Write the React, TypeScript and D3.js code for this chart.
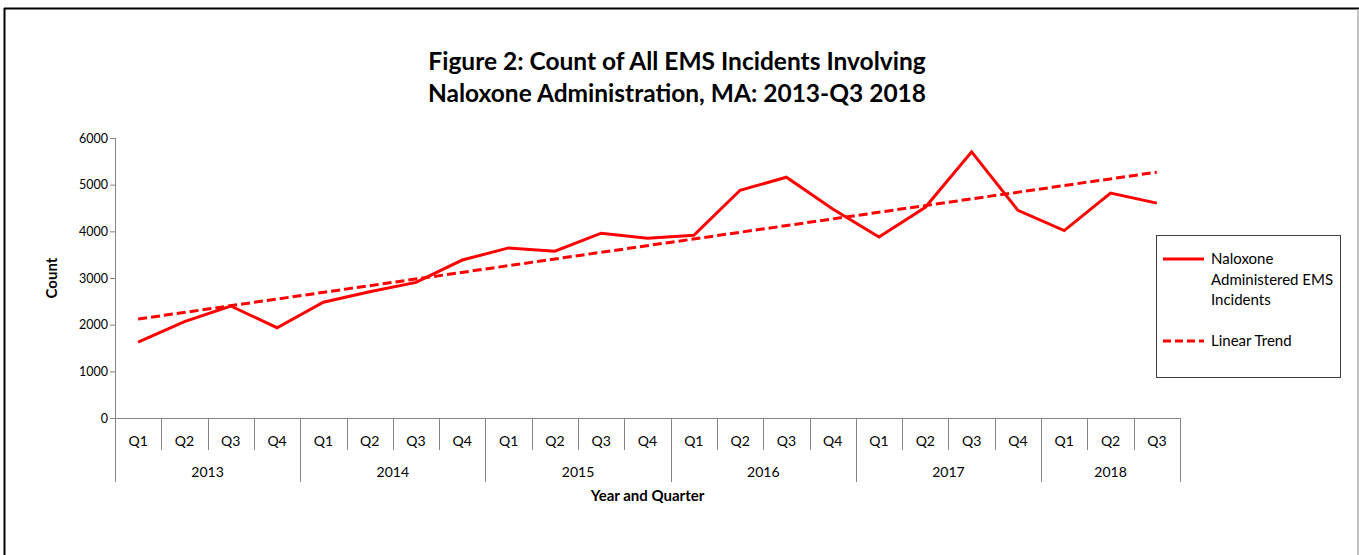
import { useEffect, useRef } from 'react';
import * as d3 from 'd3';

// Quarterly counts of EMS incidents with naloxone administered, MA
const years = ['2013', '2014', '2015', '2016', '2017', '2018'];
const quarters = ['Q1', 'Q2', 'Q3', 'Q4'];
const quartersPerYear = [4, 4, 4, 4, 4, 3];
const counts = [
  1625, 2065, 2400, 1935,
  2480, 2705, 2905, 3385,
  3645, 3575, 3960, 3850,
  3915, 4880, 5160, 4480,
  3880, 4515, 5705, 4450,
  4015, 4820, 4605,
];
const yTicks = [0, 1000, 2000, 3000, 4000, 5000, 6000];
const titleLines = ['Figure 2: Count of All EMS Incidents Involving', 'Naloxone Administration, MA: 2013-Q3 2018'];
const legendItems = [
  { lines: ['Naloxone', 'Administered EMS', 'Incidents'], dashed: false },
  { lines: ['Linear Trend'], dashed: true },
];

const FONT = 'Lato, "Open Sans", sans-serif';
const RED = '#ff0000';
const AXIS = '#868686';

export default function App() {
  const svgRef = useRef<SVGSVGElement>(null);

  useEffect(() => {
    document.body.style.margin = '0';
    if (!svgRef.current) return;
    const svg = d3.select(svgRef.current);
    svg.selectAll('*').remove();

    const W = 1359;
    const H = 555;
    const plot = { left: 115, right: 1180, top: 138, bottom: 418 };

    // categories built from years / quarters
    const cats: { year: string; q: string; i: number }[] = [];
    years.forEach((yr, yi) => {
      for (let k = 0; k < quartersPerYear[yi]; k++) cats.push({ year: yr, q: quarters[k], i: cats.length });
    });
    const data = cats.map((c, i) => ({ ...c, value: counts[i] }));

    const x = d3.scaleBand<number>().domain(data.map(d => d.i)).range([plot.left, plot.right]).padding(0);
    const y = d3.scaleLinear().domain([0, 6000]).range([plot.bottom, plot.top]);
    const cx = (i: number) => (x(i) as number) + x.bandwidth() / 2;

    // linear regression trend (as in Excel's linear trendline)
    const n = data.length;
    const mx = d3.mean(data, d => d.i) as number;
    const my = d3.mean(data, d => d.value) as number;
    const slope = d3.sum(data, d => (d.i - mx) * (d.value - my)) / d3.sum(data, d => (d.i - mx) ** 2);
    const trend = [0, n - 1].map(i => ({ i, value: my + slope * (i - mx) }));

    // frame
    svg.append('rect').attr('width', W).attr('height', H).attr('fill', '#fff');
    svg.append('line').attr('x1', 4).attr('x2', W).attr('y1', 8.5).attr('y2', 8.5).attr('stroke', '#000').attr('stroke-width', 2);
    svg.append('line').attr('x1', 4.5).attr('x2', 4.5).attr('y1', 8).attr('y2', H).attr('stroke', '#000').attr('stroke-width', 2);
    svg.append('line').attr('x1', 1358).attr('x2', 1358).attr('y1', 9).attr('y2', H).attr('stroke', '#b0b0b0').attr('stroke-width', 1.5);

    // title
    svg.append('text')
      .attr('x', 677).attr('y', 70)
      .attr('text-anchor', 'middle')
      .attr('font-family', FONT).attr('font-weight', 'bold').attr('font-size', 24.5)
      .selectAll('tspan').data(titleLines).enter().append('tspan')
      .attr('x', 677).attr('dy', (_d, i) => (i === 0 ? 0 : 32))
      .text(d => d);

    // y axis
    const gy = svg.append('g').attr('transform', `translate(${plot.left},0)`)
      .call(d3.axisLeft(y).tickValues(yTicks).tickSize(5).tickPadding(2).tickFormat(d3.format('d')));
    gy.selectAll('line, path').attr('stroke', AXIS);
    gy.select('.domain').attr('d', `M0.5,${plot.top}V${plot.bottom}`);
    gy.selectAll('text').attr('font-family', FONT).attr('font-size', 12.5).attr('fill', '#000');

    svg.append('text')
      .attr('transform', `translate(57,${(plot.top + plot.bottom) / 2}) rotate(-90)`)
      .attr('text-anchor', 'middle')
      .attr('font-family', FONT).attr('font-weight', 'bold').attr('font-size', 15)
      .text('Count');

    // x axis: baseline, quarter & year separators
    const gx = svg.append('g');
    gx.append('line').attr('x1', plot.left).attr('x2', plot.right)
      .attr('y1', plot.bottom + 0.5).attr('y2', plot.bottom + 0.5).attr('stroke', AXIS);
    const yearStarts = new Set<number>();
    let acc = 0;
    quartersPerYear.forEach(c => { yearStarts.add(acc); acc += c; });
    yearStarts.add(acc);
    d3.range(n + 1).forEach(i => {
      const xx = Math.round(i < n ? (x(i) as number) : plot.right) + 0.5;
      gx.append('line').attr('x1', xx).attr('x2', xx)
        .attr('y1', plot.bottom).attr('y2', yearStarts.has(i) ? 482 : 450)
        .attr('stroke', AXIS);
    });
    gx.selectAll('.q').data(data).enter().append('text')
      .attr('x', d => cx(d.i)).attr('y', 446)
      .attr('text-anchor', 'middle')
      .attr('font-family', FONT).attr('font-size', 14)
      .text(d => d.q);
    const yearGroups = d3.groups(data, d => d.year);
    gx.selectAll('.yr').data(yearGroups).enter().append('text')
      .attr('x', ([, g]) => ((x(g[0].i) as number) + (x(g[g.length - 1].i) as number) + x.bandwidth()) / 2)
      .attr('y', 477)
      .attr('text-anchor', 'middle')
      .attr('font-family', FONT).attr('font-size', 14)
      .text(([yr]) => yr);
    svg.append('text')
      .attr('x', (plot.left + plot.right) / 2).attr('y', 501)
      .attr('text-anchor', 'middle')
      .attr('font-family', FONT).attr('font-weight', 'bold').attr('font-size', 15)
      .text('Year and Quarter');

    // series
    const line = d3.line<{ i: number; value: number }>().x(d => cx(d.i)).y(d => y(d.value));
    svg.append('path').datum(trend).attr('d', line)
      .attr('fill', 'none').attr('stroke', RED).attr('stroke-width', 3).attr('stroke-dasharray', '9,4');
    svg.append('path').datum(data).attr('d', line)
      .attr('fill', 'none').attr('stroke', RED).attr('stroke-width', 3).attr('stroke-linejoin', 'miter');

    // legend
    const lg = svg.append('g');
    lg.append('rect').attr('x', 1156.5).attr('y', 235.5).attr('width', 184).attr('height', 142)
      .attr('fill', '#fff').attr('stroke', '#404040');
    const rowY = [259, 341];
    legendItems.forEach((it, k) => {
      lg.append('line').attr('x1', 1163).attr('x2', 1204).attr('y1', rowY[k]).attr('y2', rowY[k])
        .attr('stroke', RED).attr('stroke-width', 3).attr('stroke-dasharray', it.dashed ? '8,4' : null);
      const t = lg.append('text').attr('font-family', FONT).attr('font-size', 15).attr('fill', '#000');
      it.lines.forEach((s, j) => {
        t.append('tspan').attr('x', 1211).attr('y', rowY[k] + 5 + j * 20.5).text(s);
      });
    });
  }, []);

  return <svg ref={svgRef} width={1359} height={555} style={{ display: 'block' }} />;
}
